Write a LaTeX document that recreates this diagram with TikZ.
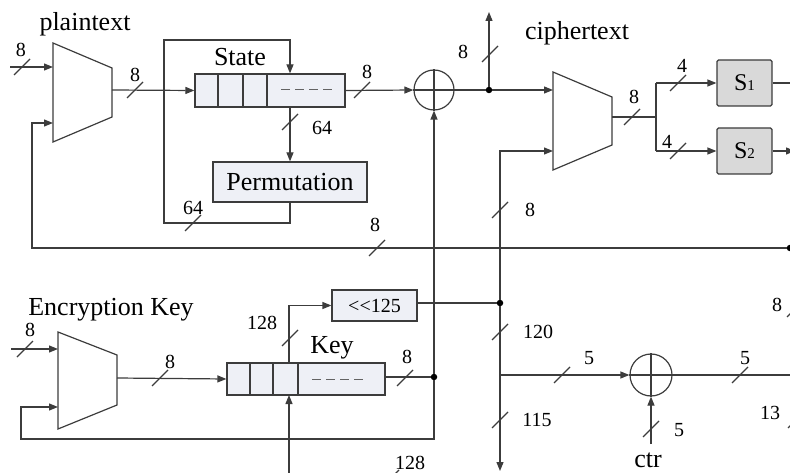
\documentclass[tikz,border=0pt]{standalone}
\usepackage{fontspec}
\setmainfont{Liberation Serif}
\usetikzlibrary{arrows.meta}
\definecolor{linec}{RGB}{60,60,60}
\definecolor{regfill}{RGB}{238,240,246}
\definecolor{sfill}{RGB}{217,217,217}
\newcommand\busmark[1]{\draw[wire] #1 ++(-8,8) -- ++(16,-16);}
\begin{document}
\begin{tikzpicture}[x=1pt,y=-1pt,
 wire/.style={line width=1.2pt,draw=linec},
 arr/.style={wire,-{Triangle[length=9pt,width=7pt]}},
 lbl/.style={font=\fontsize{20}{20}\selectfont, inner sep=0pt},
 big/.style={font=\fontsize{26}{26}\selectfont, inner sep=0pt},
 box/.style={wire, fill=regfill, inner sep=0pt},
 sbox/.style={wire, fill=sfill, rounded corners=1.5pt, minimum width=55pt, minimum height=46pt, inner sep=0pt},
 xorc/.style={wire, circle, fill=white, inner sep=0pt},
 dotn/.style={circle, fill=black, inner sep=0pt, minimum size=6.5pt},
 dashes/.style={line width=1pt, draw=linec!80, dash pattern=on 9pt off 5pt},
]
\useasboundingbox (0,0) rectangle (790,473);
\clip (0,0) rectangle (790,473);

% ---------- blocks ----------
% mux 1
\draw[wire] (53,43) -- (112,68) -- (112,117) -- (53,142) -- cycle;
\coordinate (m1a) at (53,67); \coordinate (m1b) at (53,123); \coordinate (m1o) at (112,90);
% state register
\node[box, minimum width=150pt, minimum height=33pt] (state) at (270,90.5) {};
\draw[wire] (218,74) -- (218,107) (243,74) -- (243,107) (267,74) -- (267,107);
\draw[dashes] (281,90) -- (332,90);
\node[big] (statelbl) at (240,57) {State};
% permutation
\node[box, minimum width=154pt, minimum height=40pt, big] (perm) at (290,182) {Permutation};
% xor 1
\node[xorc, minimum size=40pt] (x1) at (434,90) {};
\draw[wire] (x1.north) -- (x1.south) (x1.west) -- (x1.east);
% mux 2
\draw[wire] (553,72) -- (612,97) -- (612,145) -- (553,170) -- cycle;
\coordinate (m2a) at (553,90); \coordinate (m2b) at (553,151); \coordinate (m2o) at (612,117);
% S boxes
\node[sbox] (s1) at (744.5,83) {{\fontsize{24}{24}\selectfont S}{\fontsize{15}{15}\selectfont 1}};
\node[sbox] (s2) at (744.5,151) {{\fontsize{24}{24}\selectfont S}{\fontsize{15}{15}\selectfont 2}};
% mux 3
\draw[wire] (58,332) -- (117,355) -- (117,405) -- (58,429) -- cycle;
\coordinate (m3a) at (58,349); \coordinate (m3b) at (58,407); \coordinate (m3o) at (117,378);
% key register
\node[box, minimum width=158pt, minimum height=32pt] (key) at (306,379) {};
\draw[wire] (250,363) -- (250,395) (273,363) -- (273,395) (298,363) -- (298,395);
\draw[dashes] (312,379) -- (363,379);
\node[big] (keylbl) at (332,348) {Key};
% shift
\node[box, minimum width=85pt, minimum height=31pt, lbl] (shift) at (374.5,305.5) {<{}<125};
% xor 2
\node[xorc, minimum size=42pt] (x2) at (651,375) {};
\draw[wire] (x2.north) -- (x2.south) (x2.west) -- (x2.east);

% titles
\node[big] (pt) at (85,24) {plaintext};
\node[big] (ct) at (577,33) {ciphertext};
\node[big] (ek) at (111,310) {Encryption Key};
\node[big] (ctr) at (648,460) {ctr};

% junction dots
\node[dotn] (j1) at (489,90) {};
\node[dotn] (j2) at (500,303) {};
\node[dotn] (j3) at (434,377) {};
\node[dotn] (j4) at (790,248) {};

% ---------- wires ----------
% plaintext input
\coordinate (pin) at (10,67);
\draw[arr] (pin) -- (m1a);
\busmark{(22,67)} \node[lbl] at (21,50) {8};
% feedback into mux 1
\draw[arr] (j4) -- (32,248) -- (32,123) -- (m1b);
\busmark{(377,248)} \node[lbl] at (375,225) {8};
% mux 1 to state
\draw[arr] (m1o) -- (state.west);
\busmark{(135,90)} \node[lbl] at (135,75) {8};
% permutation loop
\draw[arr] (perm.south) -- (290,223) -- (164,223) -- (164,40) -- (290,40) -- (perm.south |- state.north);
\busmark{(193,223)} \node[lbl] at (193,208) {64};
\draw[arr] (perm.north |- state.south) -- (perm.north);
\busmark{(290,122)} \node[lbl] at (322,128) {64};
% state to xor
\draw[arr] (state.east) -- (x1.west);
\busmark{(362,90)} \node[lbl] at (367,72) {8};
% xor to mux 2 and ciphertext
\draw[arr] (x1.east) -- (j1) -- (m2a);
\coordinate (cout) at (489,12);
\draw[arr] (j1) -- (cout);
\busmark{(490,54)} \node[lbl] at (463,52) {8};
% shift output
\draw[wire] (shift.east |- j2) -- (j2);
\draw[arr] (j2) -- (500,151) -- (m2b);
\busmark{(500,210)} \node[lbl] at (530,210) {8};
\coordinate (dn) at (500,471);
\draw[arr] (j2) -- (dn);
\busmark{(500,332)} \node[lbl] at (538,332) {120};
\busmark{(500,420)} \node[lbl] at (537,420) {115};
\draw[arr] (500,375) -- (x2.west);
\busmark{(562,375)} \node[lbl] at (589,358) {5};
% mux 2 to S boxes
\draw[wire] (m2o) -- (656,117);
\busmark{(632,117)} \node[lbl] at (634,97) {8};
\draw[wire] (656,83) -- (656,151);
\draw[arr] (656,83) -- (s1.west);
\draw[arr] (656,151) -- (s2.west);
\busmark{(678,83)} \node[lbl] at (682,66) {4};
\busmark{(678,151)} \node[lbl] at (667,142) {4};
\coordinate (s1r) at (795,83); \coordinate (s2r) at (795,151);
\draw[wire] (s1.east) -- (s1r);
\draw[arr] (s2.east) -- (s2r);
% xor 1 key input and mux 3 feedback
\draw[arr] (m3a -| 11,0) -- (m3a);
\busmark{(25,349)} \node[lbl] at (30,330) {8};
\draw[arr] (j3) -- (x1.south);
\draw[arr] (j3) -- (434,439) -- (21,439) -- (21,407) -- (m3b);
\draw[wire] (key.east |- j3) -- (j3);
\busmark{(405,378)} \node[lbl] at (407,357) {8};
% mux 3 to key
\draw[arr] (m3o) -- (key.west);
\busmark{(160,378)} \node[lbl] at (170,362) {8};
% key to shift
\draw[arr] (289,363) -- (289,305.5) -- (shift.west);
\busmark{(290,338)} \node[lbl] at (262,323) {128};
% key load from below
\coordinate (kin) at (289,480);
\draw[arr] (kin) -- (289,395);
\busmark{(391,478)} \node[lbl] at (410,463) {128};
% xor 2
\draw[wire] (x2.east) -- (795,375);
\busmark{(740,375)} \node[lbl] at (745,358) {5};
\coordinate (ctrin) at (651,444);
\draw[arr] (ctrin) -- (x2.south);
\busmark{(651,429)} \node[lbl] at (679,430) {5};
% right edge partial marks
\busmark{(795,309)} \node[lbl] at (777,305) {8};
\busmark{(796,420)} \node[lbl] at (770,413) {13};
\end{tikzpicture}
\end{document}
